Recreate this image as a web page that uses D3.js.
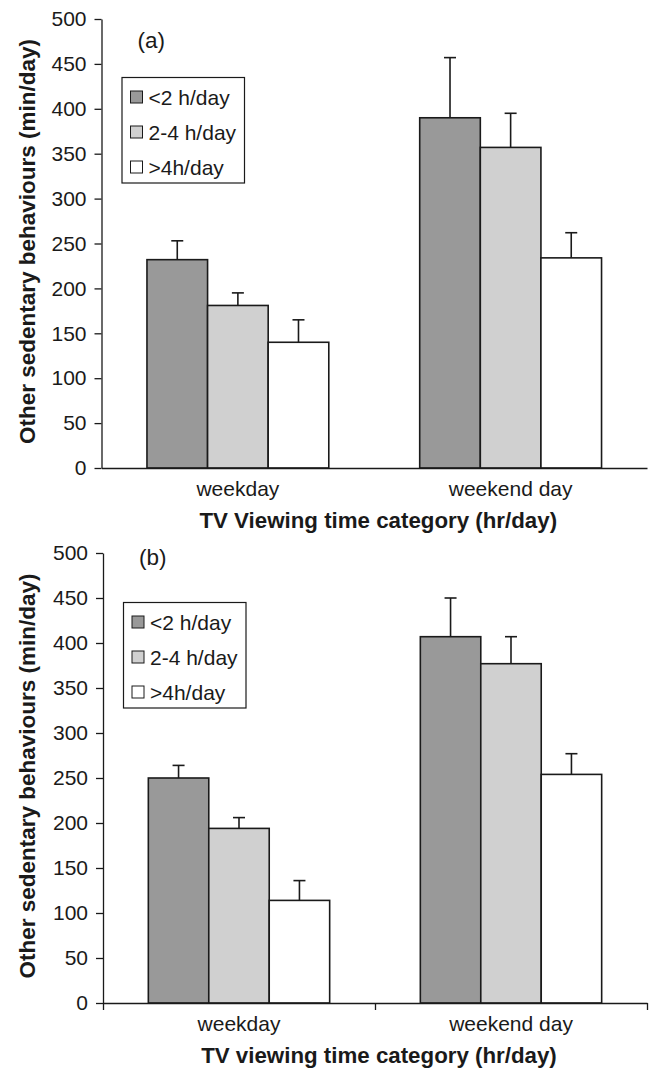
<!DOCTYPE html>
<html>
<head>
<meta charset="utf-8">
<script src="https://d3js.org/d3.v7.min.js"></script>
<style>
  body { margin: 0; background: #fff; }
  text { font-family: "Liberation Sans", Arial, Helvetica, sans-serif; fill: #1a1a1a; }
</style>
</head>
<body>
<div id="chart"></div>
<script>
// data
var categories = ["weekday", "weekend day"];
var groups = ["<2 h/day", "2-4 h/day", ">4h/day"];
var yTicks = [0, 50, 100, 150, 200, 250, 300, 350, 400, 450, 500];

// panel (a)
var meansA = [[232, 181, 140], [390, 357, 234]];
var errA   = [[21, 14, 25], [67, 38, 28]];
// panel (b)
var meansB = [[250, 194, 114], [407, 377, 254]];
var errB   = [[14, 12, 22], [43, 30, 23]];

var fills = ["#999999", "#d0d0d0", "#ffffff"];
var ink = "#1a1a1a";

var svg = d3.select("#chart").append("svg")
  .attr("width", 649)
  .attr("height", 1075);

var panels = [
  { tag: "(a)", means: meansA, errs: errA, top: 19, bottom: 468, left: 101.5, right: 647,
    xTicks: false, legendTop: 77.5, tagY: 48,
    title: "TV Viewing time category (hr/day)" },
  { tag: "(b)", means: meansB, errs: errB, top: 553, bottom: 1003, left: 103, right: 647,
    xTicks: true, legendTop: 602.5, tagY: 565,
    title: "TV viewing time category (hr/day)" }
];

panels.forEach(function(p) {
  var g = svg.append("g");

  var y = d3.scaleLinear().domain([0, 500]).range([p.bottom, p.top]);
  var x0 = d3.scaleBand().domain(categories).range([p.left, p.right])
    .paddingInner(1/3).paddingOuter(1/6);
  var x1 = d3.scaleBand().domain(groups).range([0, x0.bandwidth()]);

  // bars
  categories.forEach(function(c, ci) {
    var cg = g.append("g").attr("transform", "translate(" + x0(c) + ",0)");
    cg.selectAll("rect")
      .data(p.means[ci])
      .enter()
      .append("rect")
      .attr("x", function(d, i) { return x1(groups[i]); })
      .attr("y", function(d) { return y(d); })
      .attr("width", x1.bandwidth())
      .attr("height", function(d) { return y(0) - y(d); })
      .attr("fill", function(d, i) { return fills[i]; })
      .attr("stroke", ink)
      .attr("stroke-width", 1.6);

    // error bars (upper only)
    p.means[ci].forEach(function(m, i) {
      var cx = x1(groups[i]) + x1.bandwidth() / 2;
      cg.append("line")
        .attr("x1", cx).attr("x2", cx)
        .attr("y1", y(m)).attr("y2", y(m + p.errs[ci][i]))
        .attr("stroke", ink).attr("stroke-width", 1.6);
      cg.append("line")
        .attr("x1", cx - 6).attr("x2", cx + 6)
        .attr("y1", y(m + p.errs[ci][i])).attr("y2", y(m + p.errs[ci][i]))
        .attr("stroke", ink).attr("stroke-width", 1.6);
    });
  });

  // y axis
  var yAxis = g.append("g")
    .attr("transform", "translate(" + p.left + ",0)")
    .call(d3.axisLeft(y).tickValues(yTicks).tickSize(7).tickSizeOuter(0).tickPadding(8));
  yAxis.selectAll("text").style("font-size", "21px").attr("fill", ink);
  yAxis.selectAll("line, path").attr("stroke", ink).attr("stroke-width", 1.3);

  // x axis: category labels
  var xAxis = g.append("g")
    .attr("transform", "translate(0," + p.bottom + ")")
    .call(d3.axisBottom(x0).tickSize(0).tickPadding(13).tickSizeOuter(0));
  xAxis.select(".domain").attr("stroke", ink).attr("stroke-width", 1.3);
  xAxis.selectAll("text").style("font-size", "21px").attr("fill", ink);

  if (p.xTicks) {
    var xb = d3.scaleLinear().domain([0, categories.length]).range([p.left, p.right]);
    var tk = g.append("g")
      .attr("transform", "translate(0," + p.bottom + ")")
      .call(d3.axisBottom(xb).tickValues([0, 1, 2]).tickFormat("").tickSize(7).tickSizeOuter(0));
    tk.select(".domain").remove();
    tk.selectAll("line").attr("stroke", ink).attr("stroke-width", 1.3);
  }

  // axis titles
  g.append("text")
    .attr("x", (p.left + p.right) / 2 + 4)
    .attr("y", p.bottom + 60)
    .attr("text-anchor", "middle")
    .style("font-size", "22.3px")
    .style("font-weight", "bold")
    .text(p.title);

  g.append("text")
    .attr("transform", "translate(35," + ((p.top + p.bottom) / 2 - 2) + ") rotate(-90)")
    .attr("text-anchor", "middle")
    .style("font-size", "22.5px")
    .style("font-weight", "bold")
    .text("Other sedentary behaviours (min/day)");

  // panel tag
  g.append("text")
    .attr("x", p.left + 36)
    .attr("y", p.tagY)
    .style("font-size", "22.5px")
    .text(p.tag);

  // legend
  var lx = p.left + 20.5;
  var leg = g.append("g").attr("transform", "translate(" + lx + "," + p.legendTop + ")");
  leg.append("rect")
    .attr("width", 122.5).attr("height", 105.5)
    .attr("fill", "#fff").attr("stroke", ink).attr("stroke-width", 1.2);
  groups.forEach(function(name, i) {
    var cy = 19.5 + i * 35;
    leg.append("rect")
      .attr("x", 8.5).attr("y", cy - 6)
      .attr("width", 12).attr("height", 12)
      .attr("fill", fills[i]).attr("stroke", ink).attr("stroke-width", 1);
    leg.append("text")
      .attr("x", 26.5).attr("y", cy).attr("dy", "0.36em")
      .style("font-size", "21px")
      .text(name);
  });
});
</script>
</body>
</html>
